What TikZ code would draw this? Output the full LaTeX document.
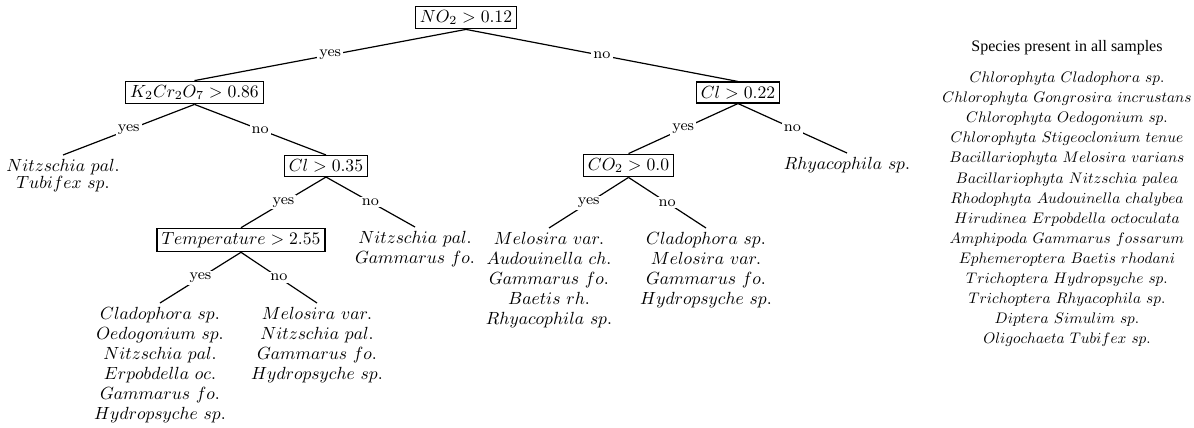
\documentclass[tikz,border=0pt]{standalone}
\usepackage[no-math]{fontspec}
\newfontfamily\titlefont{Liberation Serif}
\begin{document}
\begin{tikzpicture}[x=0.5pt,y=-0.5pt,
  test/.style={draw, line width=0.6pt, scale=0.88, inner xsep=2.6pt, inner ysep=2.3pt,
    font=\fontsize{10}{11.4}\selectfont},
  leaf/.style={align=center, scale=0.88, inner sep=2.3pt, anchor=north,
    font=\fontsize{10}{11.4}\selectfont},
  branch/.style={line width=0.6pt},
  lab/.style={fill=white, inner sep=1pt, font=\fontsize{7.6}{9}\selectfont},
  listtitle/.style={inner sep=0pt, font=\titlefont\fontsize{8}{9.6}\selectfont},
  specieslist/.style={align=center, scale=0.764, inner sep=0pt, anchor=north,
    font=\fontsize{10}{13.1}\selectfont}]
\useasboundingbox (0,0) rectangle (1194,428);

% decision nodes
\node[test] (root) at (466,17.5) {$NO_2 > 0.12$};
\node[test] (k)    at (194.5,92.5) {$K_2Cr_2O_7 > 0.86$};
\node[test] (c22)  at (738,92.5) {$Cl > 0.22$};
\node[test] (c35)  at (326,166) {$Cl > 0.35$};
\node[test] (co2)  at (628.5,165.5) {$CO_2 > 0.0$};
\node[test] (temp) at (241,240) {$Temperature > 2.55$};

% leaves
\node[leaf, font=\fontsize{10}{9.6}\selectfont] (la) at (63,155)
  {$Nitzschia\ pal.$\\ $Tubifex\ sp.$};
\node[leaf] (lrh) at (847,153) {$Rhyacophila\ sp.$};
\node[leaf] (lb) at (415,227) {$Nitzschia\ pal.$\\ $Gammarus\ fo.$};
\node[leaf] (lc) at (549,228)
  {$Melosira\ var.$\\ $Audouinella\ ch.$\\ $Gammarus\ fo.$\\ $Baetis\ rh.$\\ $Rhyacophila\ sp.$};
\node[leaf] (ld) at (706,228)
  {$Cladophora\ sp.$\\ $Melosira\ var.$\\ $Gammarus\ fo.$\\ $Hydropsyche\ sp.$};
\node[leaf] (le) at (160,303)
  {$Cladophora\ sp.$\\ $Oedogonium\ sp.$\\ $Nitzschia\ pal.$\\ $Erpobdella\ oc.$\\ $Gammarus\ fo.$\\ $Hydropsyche\ sp.$};
\node[leaf] (lf) at (317,303)
  {$Melosira\ var.$\\ $Nitzschia\ pal.$\\ $Gammarus\ fo.$\\ $Hydropsyche\ sp.$};

% branches
\draw[branch] (root.south) -- node[lab]{yes} (k.north);
\draw[branch] (root.south) -- node[lab]{no} (c22.north);
\draw[branch] (k.south) -- node[lab]{yes} (la.north);
\draw[branch] (k.south) -- node[lab]{no} (c35.north);
\draw[branch] (c35.south) -- node[lab]{yes} (temp.north);
\draw[branch] (c35.south) -- node[lab]{no} (lb.north);
\draw[branch] (temp.south) -- node[lab]{yes} (le.north);
\draw[branch] (temp.south) -- node[lab]{no} (lf.north);
\draw[branch] (c22.south) -- node[lab]{yes} (co2.north);
\draw[branch] (c22.south) -- node[lab]{no} (lrh.north);
\draw[branch] (co2.south) -- node[lab]{yes} (lc.north);
\draw[branch] (co2.south) -- node[lab]{no} (ld.north);

% species list
\node[listtitle] (ttl) at (1067,48) {Species present in all samples};
\node[specieslist] (spl) at (1067,72)
  {$Chlorophyta\ Cladophora\ sp.$\\
   $Chlorophyta\ Gongrosira\ incrustans$\\
   $Chlorophyta\ Oedogonium\ sp.$\\
   $Chlorophyta\ Stigeoclonium\ tenue$\\
   $Bacillariophyta\ Melosira\ varians$\\
   $Bacillariophyta\ Nitzschia\ palea$\\
   $Rhodophyta\ Audouinella\ chalybea$\\
   $Hirudinea\ Erpobdella\ octoculata$\\
   $Amphipoda\ Gammarus\ fossarum$\\
   $Ephemeroptera\ Baetis\ rhodani$\\
   $Trichoptera\ Hydropsyche\ sp.$\\
   $Trichoptera\ Rhyacophila\ sp.$\\
   $Diptera\ Simulim\ sp.$\\
   $Oligochaeta\ Tubifex\ sp.$};
\end{tikzpicture}
\end{document}
